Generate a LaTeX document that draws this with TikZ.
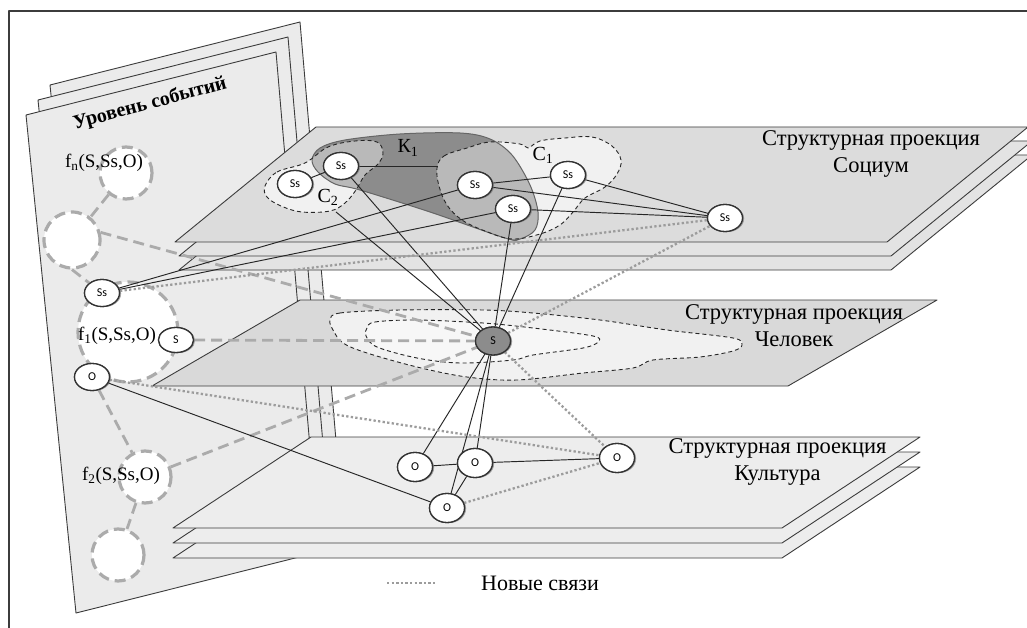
\documentclass[tikz,border=0pt]{standalone}
\usepackage{fontspec}
\setmainfont{Liberation Serif}
\newfontfamily\nodefont{Carlito}
\usetikzlibrary{shapes.geometric,shadows}

\definecolor{evfill}{HTML}{EBEBEB}
\definecolor{socfill}{HTML}{DCDCDC}
\definecolor{socback}{HTML}{E3E3E3}
\definecolor{humfill}{HTML}{D9D9D9}
\definecolor{culfill}{HTML}{EDEDED}
\definecolor{edgecol}{HTML}{3C3C3C}
\definecolor{zonefill}{HTML}{F1F1F1}
\definecolor{kdark}{HTML}{8C8C8C}
\definecolor{kmid}{HTML}{B9B9B9}
\definecolor{evlink}{HTML}{ABABAB}
\definecolor{newlink}{HTML}{9C9C9C}

% outlines of the zones
\newcommand\zoneCtwo{plot[smooth cycle,tension=0.6] coordinates {(265,186) (277,172) (305,163) (328,147) (355,141) (377,142) (383,153) (378,164) (365,175) (356,190) (345,203) (330,211) (302,212) (281,206) (267,197)}}
\newcommand\zoneCone{plot[smooth cycle,tension=0.6] coordinates {(437,168) (444,156) (467,148) (490,142) (520,144) (528,148) (540,141) (565,138) (592,137) (612,146) (621,160) (617,174) (605,187) (585,198) (573,212) (560,225) (540,234) (512,239) (485,231) (462,220) (447,205) (439,186)}}
\newcommand\zoneKone{plot[smooth cycle,tension=0.55] coordinates {(312,160) (320,148) (345,140) (400,134) (460,133) (490,139) (512,155) (530,185) (538,212) (535,230) (520,239) (505,238) (430,212) (360,190) (335,184) (318,172)}}
\newcommand\zoneHout{plot[smooth cycle,tension=0.55] coordinates {(330,320) (340,313) (400,310) (483,310) (533,313) (600,320) (667,330) (733,338) (742,345) (733,351) (700,357) (653,360) (633,368) (583,373) (517,380) (467,377) (417,367) (367,353) (343,343) (333,330)}}
\newcommand\zoneHin{plot[smooth cycle,tension=0.55] coordinates {(367,328) (375,322) (417,320) (483,323) (533,328) (593,336) (598,342) (583,348) (533,355) (513,360) (460,363) (417,358) (377,347) (366,336)}}

\begin{document}
\begin{tikzpicture}[x=1pt,y=-1pt,line join=round,
  plane/.style={draw=edgecol,line width=0.9},
  zone/.style={draw=black!85,line width=0.9,dash pattern=on 4pt off 3pt},
  evring/.style={circle,draw=evlink,line width=3.2,dash pattern=on 11pt off 6pt,fill=white,inner sep=0},
  evtie/.style={draw=evlink,line width=2.8,dash pattern=on 11pt off 6pt},
  tie/.style={draw=black!85,line width=0.95},
  newtie/.style={draw=newlink,line width=2.3,dash pattern=on 2.3pt off 2.3pt},
  actor/.style={ellipse,draw=black!80,line width=1.3,fill=white,inner sep=0,
    minimum width=35,minimum height=27,font=\nodefont\fontsize{12}{12}\selectfont,
    drop shadow={shadow xshift=1.6pt,shadow yshift=-0.6pt,fill=black!50,opacity=0.45}},
  planelabel/.style={font=\fontsize{22.5}{27}\selectfont,align=center,inner sep=0},
  flabel/.style={font=\fontsize{19}{19}\selectfont,inner sep=0},
  zlabel/.style={font=\fontsize{20}{20}\selectfont,inner sep=0}]
\useasboundingbox (0,0) rectangle (1027,628);
\fill[white] (0,0) rectangle (1027,628);
\begin{scope}
\clip (0,0) rectangle (1027,628);

% frame
\draw[edgecol,line width=1.2] (9,640) -- (9,11) -- (1040,11);

% event level: three stacked sheets
\foreach \dx/\dy in {24/-30,12/-15,0/0}
  \filldraw[plane,fill=evfill,shift={(\dx,\dy)}] (26,115) -- (276,52) -- (319,552) -- (76,613) -- cycle;
\node[rotate=15,inner sep=0,font=\bfseries\fontsize{20}{20}\selectfont] (evtitle) at (150,104) {Уровень событий};

% events
\node[evring,minimum size=52] (cn) at (126,173) {};
\node[evring,minimum size=56] (ca) at (72,240) {};
\node[evring,minimum size=100] (cone) at (128,332) {};
\node[evring,minimum size=52] (ctwo) at (145,477) {};
\node[evring,minimum size=52] (cb) at (118,555) {};

% culture projection
\foreach \dy in {30,15,0}
  \filldraw[plane,fill=culfill,shift={(0,\dy)}] (173,528) -- (782,528) -- (920,437) -- (311,437) -- cycle;
% human projection
\filldraw[plane,fill=humfill] (152,386) -- (788,386) -- (937,300) -- (300,300) -- cycle;
% social projection
\foreach \dx/\dy/\c in {4/28/socback,4/14/socback,0/0/socfill}
  \filldraw[plane,fill=\c,shift={(\dx,\dy)}] (175,242) -- (887,242) -- (1028,127) -- (316,127) -- cycle;

% zones on the human projection
\filldraw[zone,fill=zonefill] \zoneHout;
\filldraw[zone,fill=zonefill!60!white] \zoneHin;

% zones on the social projection
\fill[zonefill] \zoneCone;
\fill[zonefill] \zoneCtwo;
\fill[kdark] \zoneKone;
\begin{scope}
  \clip \zoneCone;
  \fill[kmid] \zoneKone;
\end{scope}
\begin{scope}
  \clip \zoneCtwo;
  \fill[kmid] \zoneKone;
\end{scope}
\draw[black!60,line width=1] \zoneKone;
\draw[zone] \zoneCone;
\draw[zone] \zoneCtwo;

% plane captions
\node[planelabel] (socl) at (871,153.5) {Структурная проекция\\Социум};
\node[planelabel] (huml) at (794,326) {Структурная проекция\\Человек};
\node[planelabel] (cull) at (777.5,461.5) {Структурная проекция\\Культура};

% actors (positions and names)
\node[actor] (eSs) at (102,293) {Ss};
\node[actor,minimum height=25] (eS) at (176,340) {S};
\node[actor] (eO) at (92,377) {O};

\node[actor] (sA) at (295,184) {Ss};
\node[actor] (sB) at (341,166) {Ss};
\node[actor] (sC) at (475,185) {Ss};
\node[actor] (sD) at (513,209) {Ss};
\node[actor] (sE) at (568,175) {Ss};
\node[actor] (sF) at (725,218) {Ss};

\node[actor,fill=kdark,minimum height=28] (hS) at (493,341) {S};

\node[actor,minimum height=29] (oA) at (415,467) {O};
\node[actor,minimum height=29] (oB) at (475,463) {O};
\node[actor,minimum height=29] (oC) at (447,508) {O};
\node[actor,minimum height=29] (oD) at (617,458) {O};

\coordinate (kEnd) at (438,166);
\coordinate (cTwoFoot) at (336,212);

% links between events
\draw[evtie] (cn) -- (ca);
\draw[evtie] (ca.south) -- (eSs);
\draw[evtie] (ca.15) -- (hS);
\draw[evtie] (eS) -- (hS);
\draw[evtie] (eO) -- (ctwo);
\draw[evtie] (ctwo) -- (cb);
\draw[evtie] (ctwo) -- (hS);

% existing ties
\draw[tie] (sA) -- (sB);
\draw[tie] (sB) -- (kEnd);
\draw[tie] (sB) -- (hS);
\draw[tie] (cTwoFoot) -- (hS);
\draw[tie] (sD) -- (hS);
\draw[tie] (sE) -- (hS);
\draw[tie] (sC) -- (eSs);
\draw[tie] (sD) -- (eSs);
\draw[tie] (sC) -- (sE);
\draw[tie] (sC) -- (sF);
\draw[tie] (sD) -- (sF);
\draw[tie] (sE) -- (sF);
\draw[tie] (hS) -- (oA);
\draw[tie] (hS) -- (oB);
\draw[tie] (hS) -- (oC);
\draw[tie] (oA) -- (oB);
\draw[tie] (oB) -- (oD);
\draw[tie] (oB) -- (oC);
\draw[tie] (oC) -- (eO);

% new ties
\draw[newtie] (eSs) -- (sF);
\draw[newtie] (hS) -- (sF);
\draw[newtie] (hS) -- (oD);
\draw[newtie] (eO) -- (oD);
\draw[newtie] (oC) -- (oD);

% actors once more, above the links
\foreach \n/\t in {eSs/Ss,sA/Ss,sB/Ss,sC/Ss,sD/Ss,sE/Ss,sF/Ss}
  \node[actor] at (\n) {\t};
\node[actor,minimum height=25] at (eS) {S};
\node[actor] at (eO) {O};
\node[actor,fill=kdark,minimum height=28] at (hS) {S};
\foreach \n in {oA,oB,oC,oD}
  \node[actor,minimum height=29] at (\n) {O};

% zone names
\node[zlabel] (kname) at (408,148) {К\textsubscript{1}};
\node[zlabel] (c1name) at (543,155) {С\textsubscript{1}};
\node[zlabel] (c2name) at (328,197) {С\textsubscript{2}};

% event names
\node[flabel] (fnname) at (104,163) {f\textsubscript{n}(S,Ss,O)};
\node[flabel] (f1name) at (117,336) {f\textsubscript{1}(S,Ss,O)};
\node[flabel] (f2name) at (121,476) {f\textsubscript{2}(S,Ss,O)};

% legend
\coordinate (lgA) at (387,583);
\coordinate (lgB) at (435,583);
\draw[newtie] (lgA) -- (lgB);
\node[font=\fontsize{22}{22}\selectfont,inner sep=0] (lgtext) at (540,583) {Новые связи};
\end{scope}
\end{tikzpicture}
\end{document}
